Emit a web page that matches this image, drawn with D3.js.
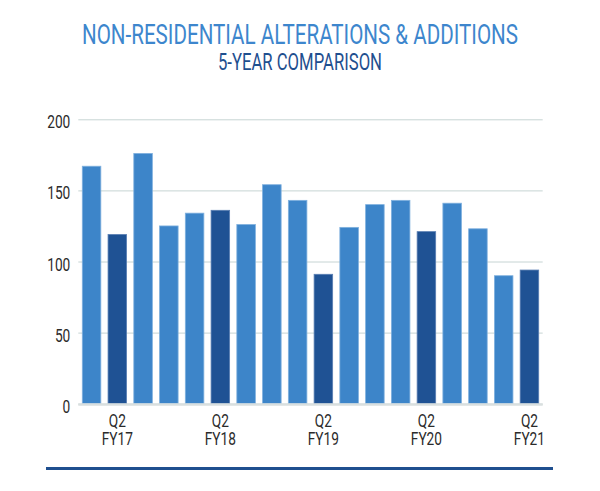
<!DOCTYPE html>
<html>
<head>
<meta charset="utf-8">
<script src="https://cdn.jsdelivr.net/npm/d3@7"></script>
<style>
  html, body { margin: 0; padding: 0; background: #fff; }
  svg { display: block; }
  .cond { font-family: "Roboto", "Liberation Sans", sans-serif; }
</style>
</head>
<body>
<svg id="chart" width="600" height="491"></svg>
<script>
const title = "NON-RESIDENTIAL ALTERATIONS & ADDITIONS";
const subtitle = "5-YEAR COMPARISON";
const quarters = ["Q1","Q2","Q3","Q4","Q1","Q2","Q3","Q4","Q1","Q2","Q3","Q4","Q1","Q2","Q3","Q4","Q1","Q2"];
const fiscalYears = ["FY17","FY17","FY17","FY17","FY18","FY18","FY18","FY18","FY19","FY19","FY19","FY19","FY20","FY20","FY20","FY20","FY21","FY21"];
const values = [167, 119, 176, 125, 134, 136, 126, 154, 143, 91, 124, 140, 143, 121, 141, 123, 90, 94];
const yTicks = [0, 50, 100, 150, 200];

const categories = quarters.map((q, i) => q + " " + fiscalYears[i]);
const svg = d3.select("#chart");
const condense = 0.74;
function narrow(sel) {
  sel.each(function () {
    const w = this.getComputedTextLength();
    d3.select(this).attr("textLength", w * condense).attr("lengthAdjust", "spacingAndGlyphs");
  });
}

const x = d3.scaleBand().domain(categories).range([78.3, 542.7]).paddingInner(0.28).paddingOuter(0.155);
const y = d3.scaleLinear().domain([0, 200]).range([403.7, 119.3]);

// Title
svg.append("text").attr("class", "cond")
  .attr("x", 82).attr("y", 43.5)
  .attr("textLength", 436).attr("lengthAdjust", "spacingAndGlyphs")
  .attr("font-size", 28).attr("fill", "#3d86cd")
  .text(title);
svg.append("text").attr("class", "cond")
  .attr("x", 218).attr("y", 70)
  .attr("textLength", 164).attr("lengthAdjust", "spacingAndGlyphs")
  .attr("font-size", 24).attr("fill", "#1f4f8f")
  .text(subtitle);

// Y axis with gridlines
const yAxis = d3.axisLeft(y).tickValues(yTicks).tickSize(-(542.7 - 78.3)).tickPadding(8);
const gy = svg.append("g").attr("transform", "translate(78.3,0)").call(yAxis);
gy.select(".domain").remove();
gy.selectAll(".tick line").attr("stroke", "#c6d4d3").attr("stroke-width", 1);
gy.selectAll(".tick text")
  .attr("class", "cond")
  .attr("font-size", 18.5).attr("fill", "#2b2b2b").attr("dy", "0.46em")
  .call(narrow);

// Bars
svg.append("g").selectAll("rect").data(values).join("rect")
  .attr("x", (d, i) => x(categories[i]))
  .attr("width", x.bandwidth())
  .attr("y", d => y(d))
  .attr("height", d => y(0) - y(d))
  .attr("fill", (d, i) => quarters[i] === "Q2" ? "#1f5294" : "#3d85c9")
  .attr("stroke", (d, i) => quarters[i] === "Q2" ? "#5a7fb3" : "#7fb0de")
  .attr("stroke-width", 0.8);

// Baseline
svg.append("line")
  .attr("x1", 78.3).attr("x2", 542.7)
  .attr("y1", y(0) + 0.8).attr("y2", y(0) + 0.8)
  .attr("stroke", "#d9dfdf").attr("stroke-width", 2.5);

// X labels at Q2 bars
const xl = svg.append("g");
categories.forEach((c, i) => {
  if (quarters[i] !== "Q2") return;
  const cx = x(c) + x.bandwidth() / 2;
  xl.append("text").attr("class", "cond").attr("x", cx).attr("y", 426.5)
    .attr("text-anchor", "middle").attr("font-size", 18.5).attr("fill", "#2b2b2b").text(quarters[i]);
  xl.append("text").attr("class", "cond").attr("x", cx).attr("y", 445)
    .attr("text-anchor", "middle").attr("font-size", 18.5).attr("fill", "#2b2b2b").text(fiscalYears[i]);
});
xl.selectAll("text").call(narrow);

// Bottom rule
svg.append("line")
  .attr("x1", 46).attr("x2", 553).attr("y1", 468.5).attr("y2", 468.5)
  .attr("stroke", "#1f4f8f").attr("stroke-width", 3);
</script>
</body>
</html>
